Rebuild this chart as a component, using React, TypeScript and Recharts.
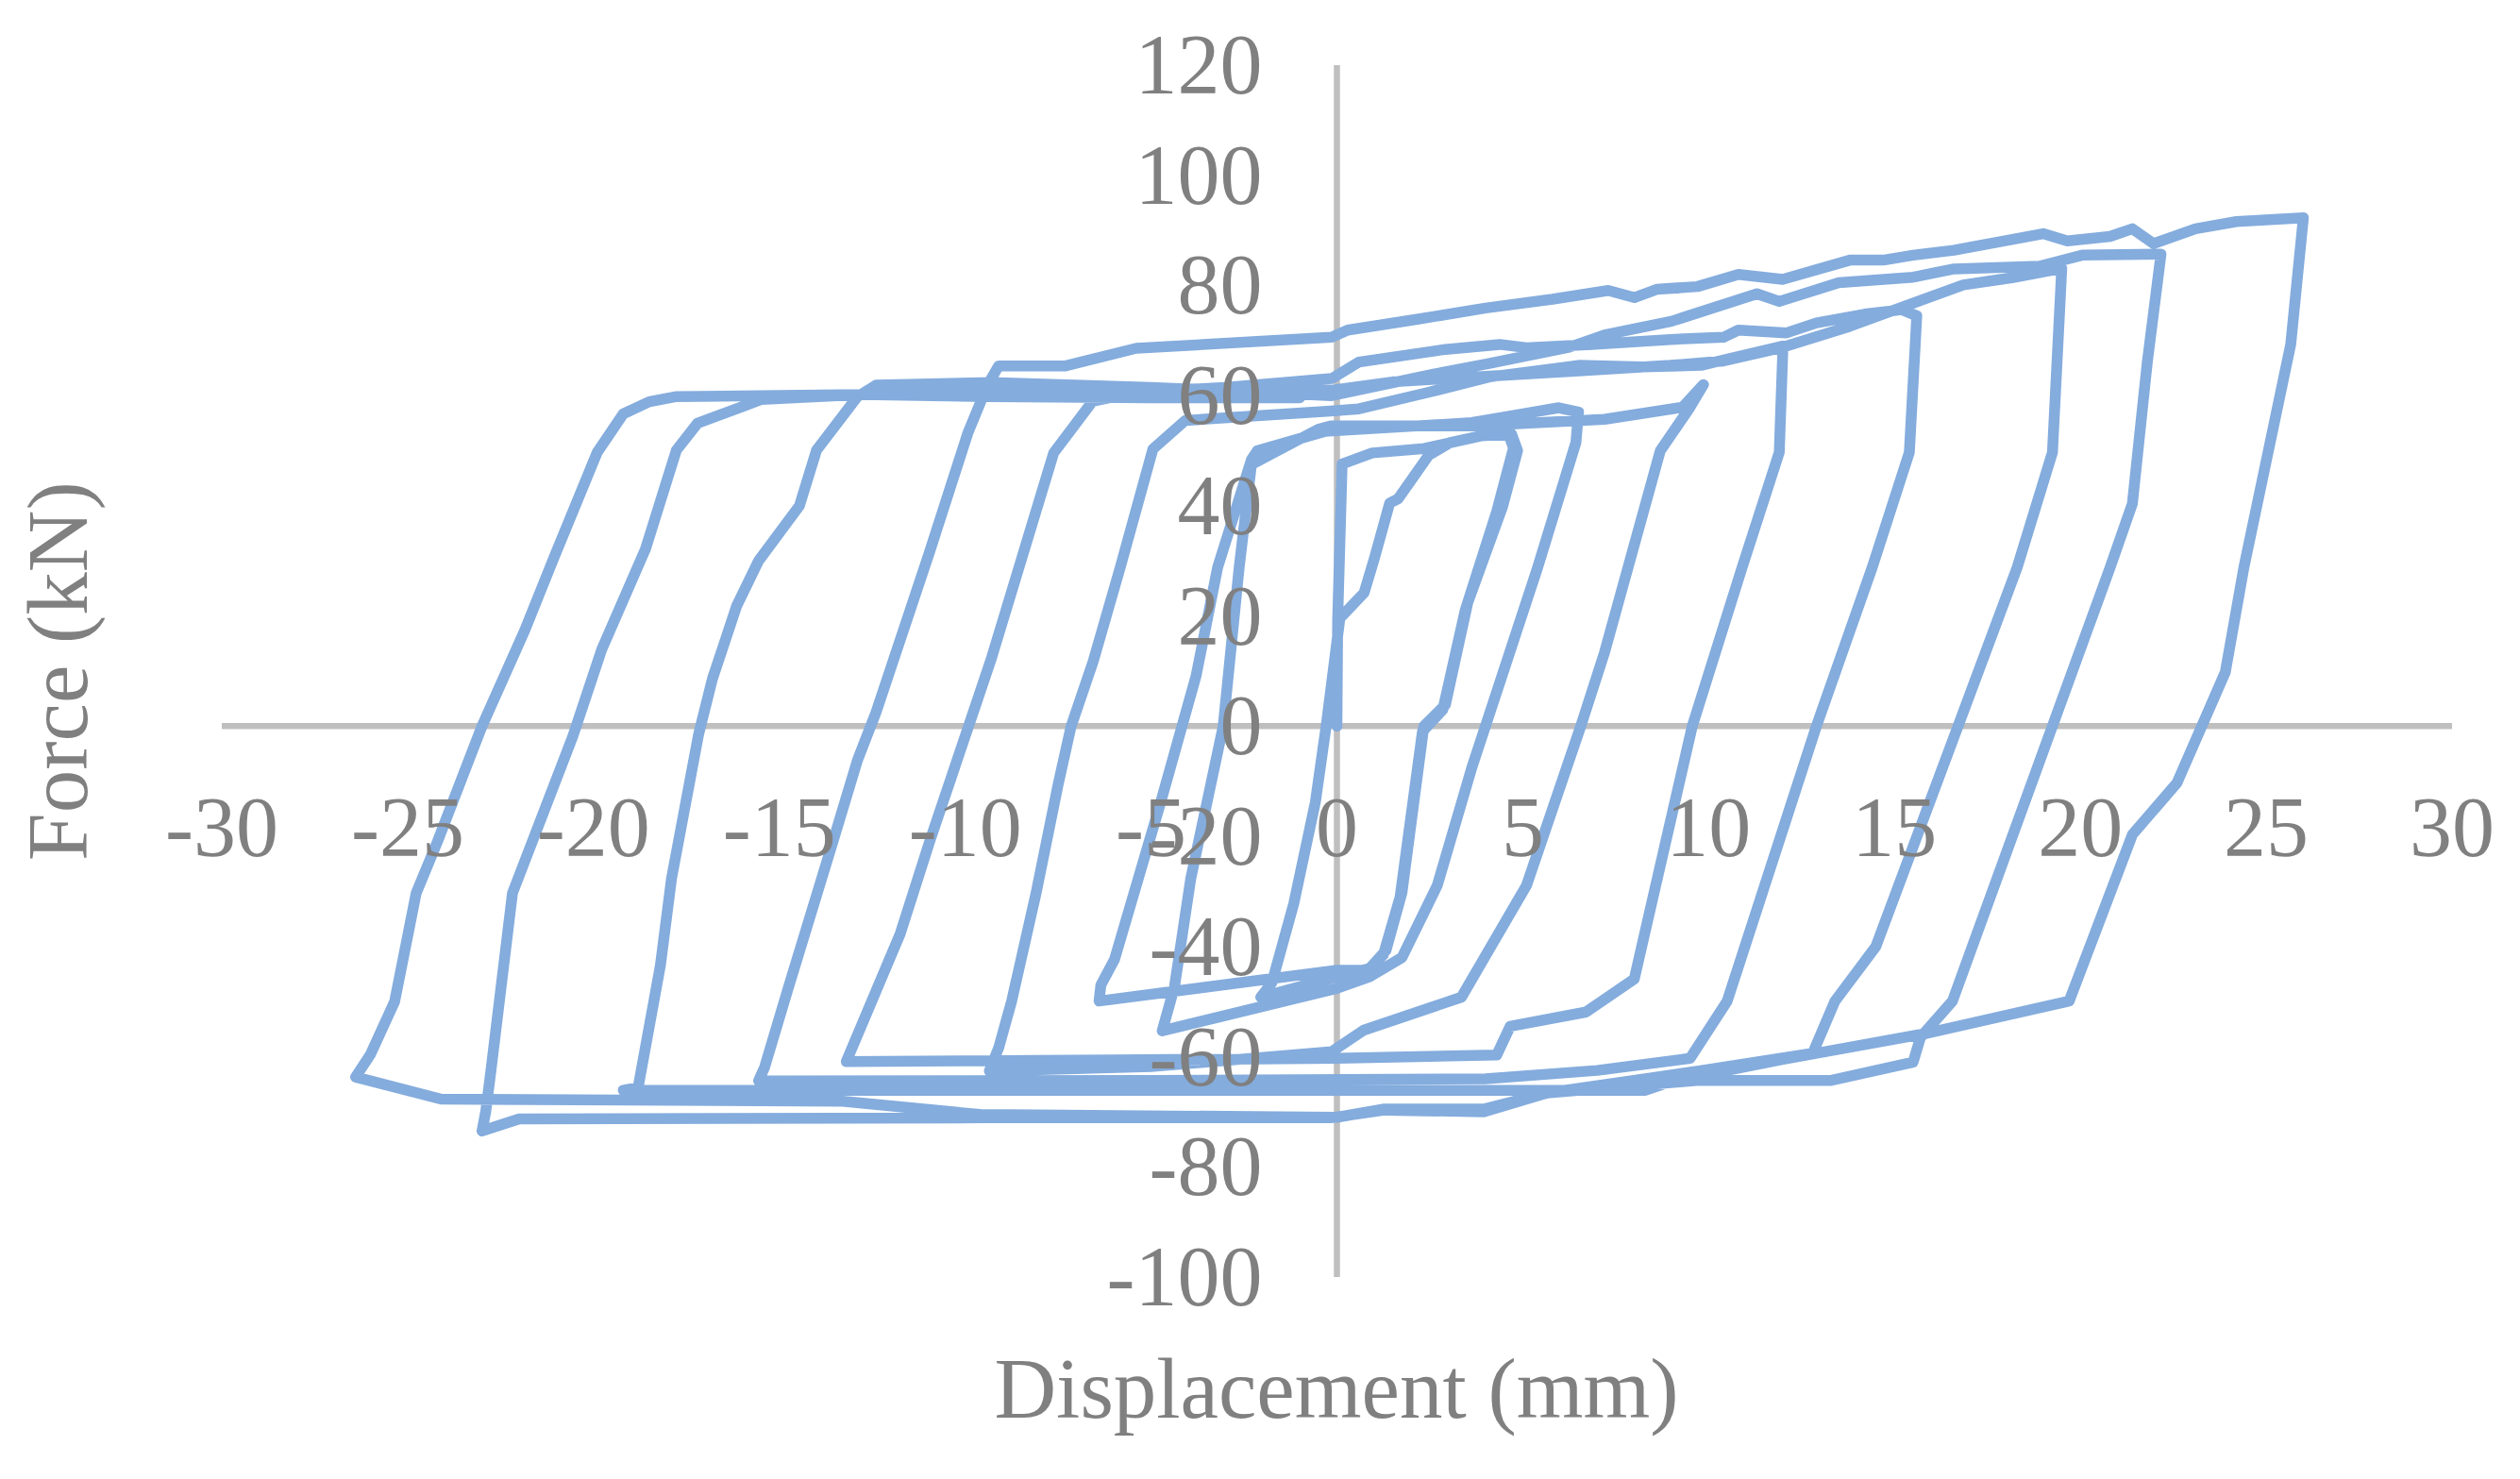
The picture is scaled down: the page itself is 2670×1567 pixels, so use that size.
import { LineChart, Line, XAxis, YAxis, ReferenceLine, ReferenceDot } from 'recharts';

// Hysteresis branches in test order: [displacement (mm), force (kN)]
const initialLoad = [[0, 0], [0.02, 19.3], [0.14, 47.6], [0.95, 49.6], [2.35, 50.4], [3.87, 52.7], [4.7, 53.0]];
const unload1 = [[4.86, 50], [4.45, 39.7], [3.52, 22.4], [2.92, 3.9], [2.34, 0], [1.75, -30.2], [1.32, -40.7], [0.88, -44], [0, -45.5], [-2.05, -49.2]];
const reload1 = [[-1.75, -46.6], [-1.16, -32.2], [-0.58, -13.8], [-0.29, 0], [0.08, 19.6], [0.73, 24.2], [1.0, 30.3], [1.42, 40.5], [1.65, 41.3], [2.47, 49.2], [3.05, 51.5], [3.87, 52.7], [4.6, 53.3]];
const unload2 = [[4.75, 50.5], [4.3, 39], [3.45, 21], [2.85, 3], [2.3, -1], [1.7, -31], [1.25, -41.5], [0.85, -44.3], [0, -44.3], [-6.4, -49.9]];
const reload2 = [[-6.35, -47], [-5.98, -42.3], [-4.74, -13.8], [-3.79, 9.1], [-3.21, 28.8], [-2.3, 48.4], [-2.14, 50.0], [-0.33, 53.5], [3.63, 55.1], [4.57, 56.2], [5.97, 57.8], [6.5, 57.0]];
const unload3 = [[6.43, 51.5], [5.4, 28.8], [3.64, -7.3], [2.7, -28.9], [1.75, -42], [0.88, -45.5], [0, -47.6], [-4.7, -55.3]];
const reload3 = [[-4.37, -47.3], [-3.93, -27.6], [-3.06, 0], [-2.63, 28.8], [-2.3, 47.5], [-0.5, 53.9], [-0.17, 54.5], [3.7, 54.5], [7.2, 55.7], [9.3, 57.9], [9.86, 62.0]];
const unload4 = [[9.5, 57.9], [8.7, 50], [7.2, 13.4], [6.56, 0], [5.1, -28.9], [3.35, -49.2], [0.72, -55.2], [-0.14, -59.1], [-5, -61.8], [-9.35, -62.6]];
const reload4 = [[-9.1, -58.4], [-8.75, -49.9], [-8.09, -30.2], [-7.5, -10.6], [-7.15, 0], [-6.56, 11.7], [-5.83, 28.8], [-4.95, 50.3], [-4.08, 55.5], [-0.17, 57.2], [0.59, 57.6], [2.4, 60.5], [4.1, 63.4], [6.5, 65.5], [8.2, 65.2], [9.8, 65.5], [10.6, 66.8], [12.0, 69.0]];
const unload5 = [[11.9, 49.7], [10.9, 28.8], [9.56, 0], [8.2, -40], [8.0, -45.9], [6.7, -51.9], [4.66, -54.5], [4.3, -59.7], [0, -60.3], [-6, -60.6], [-13.2, -60.9]];
const reload5 = [[-11.75, -37.7], [-10.96, -21], [-9.3, 12.2], [-7.62, 49.6], [-6.57, 59.0], [-5.5, 60.5], [-3, 61.5], [-0.14, 63.1], [0.59, 66.1], [2.92, 68.4], [4.38, 69.3], [5.1, 68.7], [6.85, 69.3], [8.97, 70.2], [10.4, 70.6], [10.8, 71.9], [12.1, 71.4], [12.9, 73.2], [14.2, 74.8], [15.2, 75.6], [15.6, 74.5]];
const unload6 = [[15.4, 49.7], [14.4, 28.8], [12.9, 0], [10.5, -49.9], [9.5, -60.3], [7, -62.5], [4, -64], [-5, -64.3], [-15.56, -64.4]];
const reload6 = [[-15.4, -62], [-14.75, -47.3], [-13.56, -21], [-12.9, -6.2], [-12.4, 2.5], [-10.97, 31.4], [-9.93, 53.2], [-9.4, 61.9], [-9.1, 65.4], [-7.3, 65.4], [-5.4, 68.6], [-0.14, 70.6], [0.29, 71.9], [2.2, 73.9], [4.0, 75.9], [5.8, 77.5], [7.3, 79.1], [8.0, 77.8], [8.6, 79.3], [9.7, 79.8], [10.8, 82], [11.99, 81.1], [13.8, 84.6], [14.7, 84.6], [15.5, 85.5], [16.6, 86.4], [19.0, 89.4], [19.65, 88.1], [20.8, 88.9], [21.4, 90.3], [21.97, 87.6], [23.1, 90.3], [24.2, 91.6], [26.0, 92.3]];
const unload7 = [[25.66, 69.3], [24.4, 28.8], [23.9, 9.8], [22.6, -10.3], [21.4, -19.7], [19.7, -49.9], [15.83, -55.8], [12, -60.5], [9, -64.5], [8.3, -66.1], [-5, -66.1], [-19.2, -66.1]];
const reload7 = [[-18.8, -65.6], [-18.2, -43.4], [-17.9, -27.6], [-17.17, -1.4], [-16.8, 8.6], [-16.15, 21.8], [-15.56, 30], [-14.46, 40], [-14.0, 50.1], [-12.9, 59.8], [-12.4, 61.9], [-9.3, 62.4], [-5, 61.5], [-0.14, 60], [2.6, 63.9], [4.06, 65.8], [6.25, 68.8], [7.2, 71], [9, 73.5], [11.3, 78.5], [11.9, 77.1], [13.5, 80.5], [15.5, 81.5], [16.6, 83], [18.9, 83.5], [20.05, 85.5], [22.17, 85.7]];
const unload8 = [[21.8, 66], [21.4, 40.4], [20.8, 28.8], [16.56, -49.9], [15.7, -56.5], [15.5, -61], [13.3, -64.3], [9.74, -64.3], [5.65, -66.6], [3.95, -70], [1.28, -69.7], [-0.17, -71.1], [-9.6, -71.1], [-22, -71.3], [-23.0, -73.5]];
const reload8 = [[-22.9, -70], [-22.75, -62], [-22.18, -30.3], [-20.56, -1.9], [-19.78, 13.9], [-18.6, 32.2], [-17.77, 50.1], [-17.2, 55], [-16.0, 58], [-15.5, 59.3], [-12.8, 60.2], [-9.3, 60.5], [-5, 60.5], [-0.14, 61], [1.5, 62.5], [4, 63.5], [6.5, 64.5], [8.97, 65.5], [10.4, 66.3], [11.9, 68.6], [13.8, 72.6], [16.85, 80.1], [18.16, 81.4], [19.5, 83.1]];
const unload9 = [[19.25, 49.7], [18.3, 28.8], [14.5, -40], [13.4, -49.9], [12.8, -59.4], [9.74, -62.6], [8.3, -64], [5.65, -66.6], [3.95, -69.5], [1.28, -69.5], [0, -71], [-9.6, -70.5], [-13.3, -68.1], [-24.1, -67.7], [-26.4, -63.7]];
const reload9 = [[-26.0, -59.6], [-25.35, -50], [-24.77, -30.3], [-24.2, -21], [-23.0, 0], [-21.85, 17.4], [-21.07, 30.5], [-19.9, 49.7], [-19.2, 56.7], [-18.5, 58.9], [-17.8, 59.8], [-12.8, 60.2], [-9.3, 59.8], [-5, 59.6], [-1, 59.6]];

const branches = [
  initialLoad, unload1, reload1, unload2, reload2, unload3, reload3, unload4, reload4,
  unload5, reload5, unload6, reload6, unload7, reload7, unload8, reload8, unload9, reload9,
];

const xTicks = [-30, -25, -20, -15, -10, -5, 0, 5, 10, 15, 20, 25, 30];
const yTicks = [-100, -80, -60, -40, -20, 0, 20, 40, 60, 80, 100, 120];

const chartData = branches.flat().map(([x, y]) => ({ x, y }));

const FONT = '"Liberation Serif", "Times New Roman", serif';
const GREY = '#808080';

export default function App() {
  return (
    <div style={{ position: 'absolute', left: 0, top: 0, width: 2670, height: 1567, background: '#fff' }}>
      <LineChart
        width={2670}
        height={1567}
        data={chartData}
        margin={{ top: 69, right: 72, bottom: 214, left: 235 }}
      >
        <XAxis type="number" dataKey="x" domain={[-30, 30]} ticks={xTicks} hide />
        <YAxis type="number" domain={[-100, 120]} ticks={yTicks} hide />
        <ReferenceLine x={0} stroke="#BFBFBF" strokeWidth={6.5} />
        <ReferenceLine y={0} stroke="#BFBFBF" strokeWidth={6.5} />
        <Line
          type="linear"
          dataKey="y"
          stroke="#84ACDD"
          strokeWidth={11.5}
          strokeLinejoin="round"
          strokeLinecap="round"
          dot={false}
          activeDot={false}
          isAnimationActive={false}
        />
        {xTicks.map((v) => (
          <ReferenceDot
            key={`xt${v}`}
            x={v}
            y={0}
            r={1}
            ifOverflow="visible"
            shape={(p: any) => (
              <text x={p.cx} y={p.cy + 138} textAnchor="middle" fontFamily={FONT} fontSize={90} fill={GREY}>
                {v}
              </text>
            )}
          />
        ))}
        {yTicks.map((v) => (
          <ReferenceDot
            key={`yt${v}`}
            x={0}
            y={v}
            r={1}
            ifOverflow="visible"
            shape={(p: any) => (
              <text x={p.cx - 79} y={p.cy + 30} textAnchor="end" fontFamily={FONT} fontSize={90} fill={GREY}>
                {v}
              </text>
            )}
          />
        ))}
      </LineChart>
      <svg width={2670} height={1567} style={{ position: 'absolute', left: 0, top: 0, pointerEvents: 'none' }}>
        <text x={1416} y={1502} textAnchor="middle" fontFamily={FONT} fontSize={91} fill={GREY}>
          Displacement (mm)
        </text>
        <text
          x={0}
          y={0}
          transform="translate(92 711) rotate(-90)"
          textAnchor="middle"
          fontFamily={FONT}
          fontSize={91}
          fill={GREY}
        >
          Force (kN)
        </text>
      </svg>
    </div>
  );
}
